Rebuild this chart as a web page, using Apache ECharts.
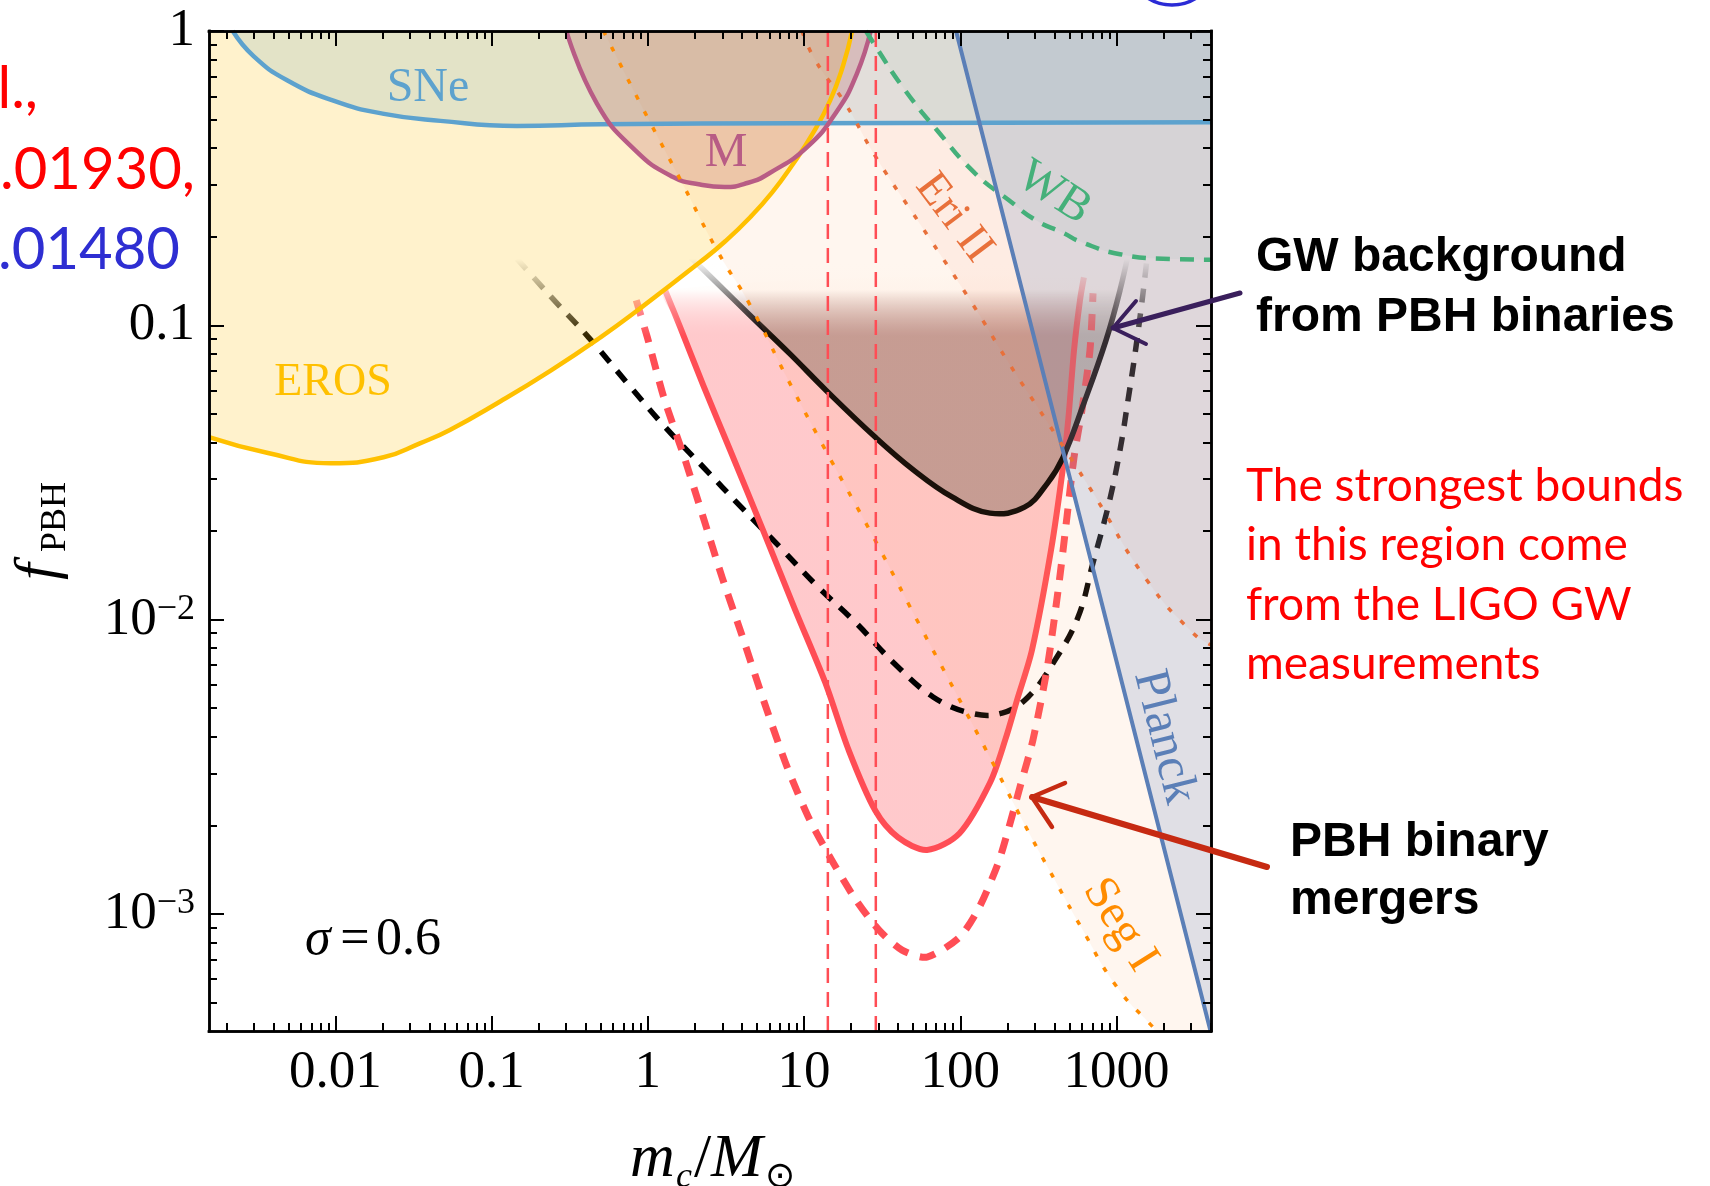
<!DOCTYPE html>
<html>
<head>
<meta charset="utf-8">
<title>PBH abundance constraints</title>
<script src="https://cdn.jsdelivr.net/npm/echarts@6/dist/echarts.min.js"></script>
<style>
  html, body { margin: 0; padding: 0; background: #ffffff; }
  #chart { width: 1710px; height: 1186px; }
</style>
</head>
<body>
<div id="chart"></div>
<script>
// ---------------- axis ranges (physical units) ----------------
const M_MIN = 0.00155, M_MAX = 4030;   // m_c / M_sun
const F_MIN = 0.0004,  F_MAX = 1;      // f_PBH

// ---------------- tick labels ----------------
const xTickValues = [0.01, 0.1, 1, 10, 100, 1000];
const xTickLabels = ['0.01', '0.1', '1', '10', '100', '1000'];
const yTickValues = [1, 0.1, 0.01, 0.001];
const yTickLabels = ['1', '0.1', ['10', '\u22122'], ['10', '\u22123']];

// ---------------- constraint curves, [m_c, f_PBH] ----------------
const sneCurve = [[0.0022, 1], [0.003, 0.82], [0.0049, 0.68], [0.0097, 0.58], [0.02, 0.524],
  [0.047, 0.495], [0.145, 0.476], [0.5, 0.482], [9.4, 0.486], [180, 0.488], [4030, 0.49]];

const erosCurve = [[0.00155, 0.0417], [0.0037, 0.0368], [0.0093, 0.034], [0.0203, 0.0356],
  [0.035, 0.0398], [0.054, 0.0441], [0.114, 0.0552], [0.24, 0.0703], [0.5, 0.0912],
  [0.86, 0.1125], [2.16, 0.164], [3.13, 0.193], [4.52, 0.233], [6.25, 0.283], [8.39, 0.35],
  [11.3, 0.446], [14.7, 0.581], [17.8, 0.765], [20.3, 1]];

const mCurve = [[0.301, 1], [0.471, 0.568], [0.828, 0.394], [1.45, 0.319], [2.16, 0.301], [3.1, 0.295],
  [4.39, 0.305], [5.96, 0.328], [10.5, 0.404], [16.4, 0.538], [21.8, 0.717], [26.7, 1]];

const segCurve = [[0.52, 1], [0.92, 0.551], [1.66, 0.304], [2.82, 0.177], [4.52, 0.117],
  [7.8, 0.0661], [13.2, 0.0391], [28.5, 0.0186], [52.9, 0.00995], [94, 0.00562], [162, 0.00325],
  [256, 0.00203], [404, 0.0013], [593, 0.000902], [1007, 0.000564], [1714, 0.000412],
  [1800, 0.0004], [4030, 0.0004]];

const eriCurve = [[9.7, 1], [11.8, 0.795], [18.3, 0.568], [28.9, 0.372], [57, 0.2155],
  [119, 0.1188], [205, 0.0743], [365, 0.0465], [708, 0.0269], [1567, 0.0136], [3090, 0.009], [4030, 0.0082]];

const wbCurve = [[24.9, 1], [28.9, 0.882], [42.8, 0.645], [71, 0.46], [124, 0.329], [205, 0.266],
  [305, 0.2275], [456, 0.206], [593, 0.192], [1054, 0.1744], [2200, 0.168], [4030, 0.167]];

const planckCurve = [[94, 1], [600, 0.021], [4000, 0.0004]];

// GW background from PBH binaries (solid, shaded) and its dashed companion
const gwCurve = [[1.69, 0.18], [2.78, 0.139], [4.52, 0.108], [8.15, 0.0798], [13.8, 0.0602],
  [28.5, 0.0417], [50.3, 0.0322], [88.6, 0.0261], [155, 0.023],
  [258, 0.0241], [362, 0.0291], [455, 0.0356], [611, 0.0534], [857, 0.0889], [1054, 0.1316], [1222, 0.187]];

const gwDashed = [[0.114, 0.1945], [0.241, 0.1246], [0.416, 0.0912], [0.738, 0.0636], [1.29, 0.0451],
  [2.26, 0.033], [3.96, 0.0241], [7.03, 0.0176], [12.3, 0.0129], [21.6, 0.00972], [37.7, 0.00711],
  [67, 0.00546], [117, 0.00481], [185, 0.00481], [272, 0.00546], [404, 0.00728], [568, 0.0102],
  [708, 0.0156], [896, 0.0249], [1054, 0.0377], [1186, 0.0557], [1325, 0.0823], [1479, 0.1285], [1616, 0.1945]];

// PBH binary merger rate bound (solid, shaded) and its dashed companion
const mergerCurve = [[1.29, 0.1315], [1.61, 0.0985], [2.26, 0.0626], [3.36, 0.0377], [5.55, 0.0197],
  [8.77, 0.0108], [13.7, 0.00609], [19.3, 0.0036], [28.5, 0.00225], [40, 0.00182], [61.3, 0.00165],
  [99, 0.00188], [155, 0.00279], [194, 0.0039], [231, 0.00533], [288, 0.00789], [381, 0.0172],
  [455, 0.033], [493, 0.0487], [535, 0.0823], [584, 0.1216], [619, 0.1455]];

const mergerDashed = [[0.843, 0.1216], [0.991, 0.0912], [1.27, 0.0565], [1.71, 0.0356], [2.26, 0.0223],
  [2.99, 0.0139], [3.96, 0.009], [5.64, 0.00512], [7.8, 0.00315], [10.9, 0.00208], [15.4, 0.00149],
  [21.6, 0.00111], [30.2, 0.000881], [42.4, 0.000753], [61.3, 0.000713], [99, 0.000834], [132, 0.00105],
  [175, 0.00149], [205, 0.00197], [245, 0.00278], [292, 0.0039], [361, 0.0069], [429, 0.0133],
  [482, 0.0223], [535, 0.0356], [601, 0.0515], [677, 0.0823], [708, 0.1285]];

// masses of the LIGO reference lines
const ligoMasses = [14.2, 28.8];

// the shaded GW / merger curves fade out between these f values
const FADE_START = 0.168, FADE_END = 0.092;

// ---------------- helpers ----------------
const LG = Math.log10;
const toLog = pts => pts.map(p => [LG(p[0]), LG(p[1])]);
const X0 = LG(M_MIN), X1 = LG(M_MAX), Y0 = LG(F_MIN), Y1 = LG(F_MAX);
const SERIF = '"Liberation Serif", "Times New Roman", serif';
const SANS = '"Liberation Sans", Arial, sans-serif';
const CAL = 'Lato, "Open Sans", sans-serif';

function rgba(c, a) { return 'rgba(' + c[0] + ',' + c[1] + ',' + c[2] + ',' + a + ')'; }

function minorTicks(lo, hi) {
  const out = [];
  for (let n = Math.floor(lo) - 1; n <= Math.ceil(hi); n++) {
    for (let k = 2; k <= 9; k++) {
      const v = n + Math.log10(k);
      if (v > lo + 1e-6 && v < hi - 1e-6) out.push(v);
    }
  }
  return out;
}
const xMaj = xTickValues.map(LG), yMaj = yTickValues.map(LG);
const xMin = minorTicks(X0, X1), yMin = minorTicks(Y0, Y1);

const FRAME = { color: '#000', width: 2.5, cap: 'square' };

function axis(isX, position, ticks, len, label) {
  return {
    type: 'value', position,
    min: isX ? X0 : Y0, max: isX ? X1 : Y1,
    z: 20, silent: true,
    axisLine: { show: true, onZero: false, lineStyle: FRAME },
    axisTick: { show: true, inside: true, length: len, customValues: ticks,
      lineStyle: { color: '#000', width: 2 } },
    axisLabel: label || { show: false },
    splitLine: { show: false },
    axisPointer: { show: false }
  };
}

const xLabel = {
  show: true, customValues: xMaj, margin: 16, color: '#000', fontFamily: SERIF, fontSize: 53,
  formatter: v => { const i = xMaj.findIndex(t => Math.abs(t - v) < 1e-6); return i < 0 ? '' : xTickLabels[i]; }
};
const yLabel = {
  show: true, customValues: yMaj, margin: 14,
  formatter: v => {
    const i = yMaj.findIndex(t => Math.abs(t - v) < 1e-6);
    if (i < 0) return '';
    const l = yTickLabels[i];
    return Array.isArray(l) ? '{b|' + l[0] + '}{s|' + l[1] + '}' : '{b|' + l + '}';
  },
  rich: {
    b: { fontFamily: SERIF, fontSize: 53, lineHeight: 56, color: '#000' },
    s: { fontFamily: SERIF, fontSize: 36, lineHeight: 30, verticalAlign: 'top', color: '#000' }
  }
};

const SMOOTH = 0.5;

// constraint region, shaded from the curve up to f = 1
function areaAbove(pts, color) {
  return { type: 'line', data: toLog(pts), symbol: 'none', smooth: SMOOTH, silent: true,
    lineStyle: { width: 0, opacity: 0 }, areaStyle: { color, origin: 'end', opacity: 1 } };
}
function curve(pts, color, width, type) {
  return { type: 'line', data: toLog(pts), symbol: 'none', smooth: SMOOTH, silent: true,
    lineStyle: { color, width, type: type || 'solid', cap: 'butt' } };
}

// curve that fades out towards large f
function fadeCurve(pts, c, width, dash, smooth) {
  return {
    type: 'custom', clip: true, silent: true, data: toLog(pts), encode: { x: 0, y: 1 },
    renderItem(params, api) {
      if (params.dataIndex !== 0) return null;
      const points = pts.map(p => api.coord([LG(p[0]), LG(p[1])]));
      const ya = api.coord([0, LG(FADE_START)])[1], yb = api.coord([0, LG(FADE_END)])[1];
      const stroke = new echarts.graphic.LinearGradient(0, ya, 0, yb,
        [{ offset: 0, color: rgba(c, 0) }, { offset: 1, color: rgba(c, 1) }], true);
      return { type: 'polyline', shape: { points, smooth },
        style: { fill: 'none', stroke, lineWidth: width, lineDash: dash || null, lineCap: 'butt' } };
    }
  };
}
// closed region under a fading curve
function fadeFill(pts, c, alpha, smooth) {
  return {
    type: 'custom', clip: true, silent: true, data: toLog(pts), encode: { x: 0, y: 1 },
    renderItem(params, api) {
      if (params.dataIndex !== 0) return null;
      const points = pts.map(p => api.coord([LG(p[0]), LG(p[1])]));
      const ya = api.coord([0, LG(FADE_START)])[1], yb = api.coord([0, LG(FADE_END)])[1];
      const fill = new echarts.graphic.LinearGradient(0, ya, 0, yb, [
        { offset: 0, color: 'rgba(255,255,255,0)' },
        { offset: 0.4, color: 'rgba(255,252,250,0.55)' },
        { offset: 1, color: rgba(c, alpha) }], true);
      return { type: 'polygon', shape: { points, smooth }, style: { fill, stroke: 'none' } };
    }
  };
}

const series = [
  areaAbove(segCurve, 'rgba(255,165,100,0.10)'),
  areaAbove(eriCurve, 'rgba(235,120,70,0.07)'),
  areaAbove(erosCurve, 'rgba(255,192,0,0.20)'),
  areaAbove(sneCurve, 'rgba(100,160,180,0.18)'),
  areaAbove(mCurve, 'rgba(185,90,100,0.25)'),
  areaAbove(wbCurve, 'rgba(180,200,190,0.15)'),
  areaAbove(planckCurve, 'rgba(100,136,190,0.20)'),
  fadeFill(mergerCurve, [255, 77, 85], 0.30, 0.3),
  fadeFill(gwCurve, [90, 80, 70], 0.38, 0.4),
  fadeCurve(gwDashed, [0, 0, 0], 5.5, [14, 11], 0.4),
  fadeCurve(mergerDashed, [255, 77, 85], 7, [16, 12], 0.25),
  fadeCurve(mergerCurve, [255, 77, 85], 6, null, 0.3),
  fadeCurve(gwCurve, [0, 0, 0], 5.5, null, 0.4),
  curve(erosCurve, '#FFC000', 4.5),
  curve(sneCurve, '#5DA2CE', 4.5),
  curve(mCurve, '#B85C85', 4.5),
  curve(wbCurve, '#45B07A', 4.5, [14, 10]),
  curve(planckCurve, '#5B7FB7', 4),
  curve(eriCurve, '#E8703A', 3.5, [5, 13]),
  curve(segCurve.slice(0, -1), '#FF8C00', 3.5, [5, 13])
];
ligoMasses.forEach(m => series.push({
  type: 'line', data: [[LG(m), Y0], [LG(m), Y1]], symbol: 'none', silent: true,
  lineStyle: { color: '#FF4D55', width: 2.5, type: [15, 9] }
}));

// ---------------- text annotations ----------------
function txt(text, x, baseline, size, color, o) {
  o = o || {};
  return { type: 'text', x, y: baseline - 0.3 * size, z: 100, silent: true, rotation: o.rot || 0,
    style: { text, fill: color, fontSize: size, fontFamily: o.family || SERIF,
      fontWeight: o.weight || 'normal', fontStyle: o.italic ? 'italic' : 'normal',
      textAlign: o.align || 'left', align: o.align || 'left',
      textVerticalAlign: 'middle', verticalAlign: 'middle' } };
}
function rotTxt(text, cx, cy, size, color, deg) {
  return { type: 'text', x: cx, y: cy, z: 100, silent: true, rotation: deg * Math.PI / 180,
    style: { text, fill: color, fontSize: size, fontFamily: SERIF,
      textAlign: 'center', align: 'center', textVerticalAlign: 'middle', verticalAlign: 'middle' } };
}

const graphics = [
  // curve labels
  txt('SNe', 428, 103, 48, '#5DA2CE', { align: 'center' }),
  txt('M', 726, 168, 48, '#B85C85', { align: 'center' }),
  txt('EROS', 333, 397, 46, '#FFC000', { align: 'center' }),
  rotTxt('Eri II', 954, 218, 46, '#E8703A', -53),
  rotTxt('WB', 1054, 193, 48, '#45B07A', -33),
  rotTxt('Planck', 1164, 737, 50, '#5B7FB7', -76),
  rotTxt('Seg I', 1120, 925, 48, '#FF8C00', -58),
  // sigma
  txt('\u03C3', 305, 956, 52, '#000', { italic: true }),
  txt('=', 355, 956, 52, '#000', { align: 'center' }),
  txt('0.6', 376, 956, 52, '#000'),
  // axis titles
  txt('m', 630, 1178, 62, '#000', { italic: true }),
  txt('c', 676, 1188, 36, '#000', { italic: true }),
  txt('/', 694, 1178, 62, '#000'),
  txt('M', 711, 1178, 62, '#000', { italic: true }),
  txt('\u2299', 765, 1188, 36, '#000'),
  { type: 'group', x: 57, y: 580, rotation: Math.PI / 2, z: 100, silent: true,
    children: [
      { type: 'text', x: 0, y: -18, style: { text: 'f', fontSize: 60, fontStyle: 'italic', fontFamily: SERIF,
        fill: '#000', textAlign: 'left', align: 'left', textVerticalAlign: 'middle', verticalAlign: 'middle' } },
      { type: 'text', x: 28, y: 10 - 11, style: { text: 'PBH', fontSize: 36, fontFamily: SERIF,
        fill: '#000', textAlign: 'left', align: 'left', textVerticalAlign: 'middle', verticalAlign: 'middle' } }
    ] },
  // side notes
  txt('l.,', 38, 107, 58, '#FF0000', { family: CAL, align: 'right' }),
  txt('.01930,', 195, 188, 58, '#FF0000', { family: CAL, align: 'right' }),
  txt('.01480', 180, 268, 58, '#2E2ED2', { family: CAL, align: 'right' }),
  { type: 'circle', shape: { cx: 1172, cy: -40, r: 45 }, z: 100, silent: true,
    style: { fill: 'none', stroke: '#2B2BD6', lineWidth: 3.5 } },
  txt('GW background', 1256, 272, 48, '#000', { family: SANS, weight: 'bold' }),
  txt('from PBH binaries', 1256, 332, 48, '#000', { family: SANS, weight: 'bold' }),
  txt('PBH binary', 1290, 857, 48, '#000', { family: SANS, weight: 'bold' }),
  txt('mergers', 1290, 915, 48, '#000', { family: SANS, weight: 'bold' }),
  txt('The strongest bounds', 1246, 500, 46, '#FF0000', { family: CAL }),
  txt('in this region come', 1246, 559, 46, '#FF0000', { family: CAL }),
  txt('from the LIGO GW', 1246, 619, 46, '#FF0000', { family: CAL }),
  txt('measurements', 1246, 678, 46, '#FF0000', { family: CAL }),
  // arrows
  { type: 'polyline', z: 100, silent: true, shape: { points: [[1240, 293], [1113, 328]] },
    style: { stroke: '#3A1F5C', lineWidth: 5, lineCap: 'round', fill: 'none' } },
  { type: 'polyline', z: 100, silent: true, shape: { points: [[1136, 301], [1113, 328], [1146, 344]] },
    style: { stroke: '#3A1F5C', lineWidth: 4, lineCap: 'round', lineJoin: 'round', fill: 'none' } },
  { type: 'polyline', z: 100, silent: true, shape: { points: [[1267, 867], [1032, 797]] },
    style: { stroke: '#C62A12', lineWidth: 6, lineCap: 'round', fill: 'none' } },
  { type: 'polyline', z: 100, silent: true, shape: { points: [[1065, 783], [1032, 797], [1052, 827]] },
    style: { stroke: '#C62A12', lineWidth: 4.5, lineCap: 'round', lineJoin: 'round', fill: 'none' } }
];

const chart = echarts.init(document.getElementById('chart'), null, { renderer: 'canvas' });
chart.setOption({
  animation: false,
  backgroundColor: '#ffffff',
  grid: { left: 209, top: 31, width: 1002, height: 1000, containLabel: false, outerBoundsMode: 'none' },
  xAxis: [
    axis(true, 'bottom', xMaj, 15, xLabel),
    axis(true, 'bottom', xMin, 8),
    axis(true, 'top', xMaj, 15),
    axis(true, 'top', xMin, 8)
  ],
  yAxis: [
    axis(false, 'left', yMaj, 15, yLabel),
    axis(false, 'left', yMin, 8),
    axis(false, 'right', yMaj, 15),
    axis(false, 'right', yMin, 8)
  ],
  series,
  graphic: graphics
});
</script>
</body>
</html>
